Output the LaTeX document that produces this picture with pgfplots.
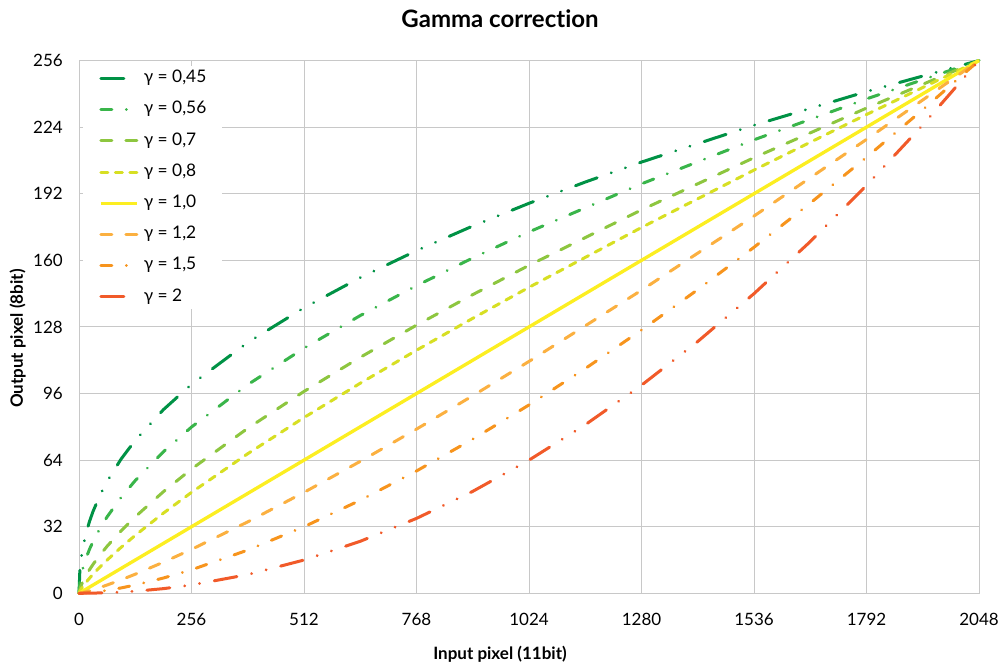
\documentclass[border=0pt]{standalone}
\usepackage{fontspec}
\setmainfont{Lato}[Ligatures=NoCommon]
\usepackage{pgfplots}
\pgfplotsset{compat=1.18}
\definecolor{gridgray}{RGB}{200,200,200}
\definecolor{cA}{HTML}{009245}
\definecolor{cB}{HTML}{39B54A}
\definecolor{cC}{HTML}{8DC63F}
\definecolor{cD}{HTML}{D7DF23}
\definecolor{cE}{HTML}{FCEE21}
\definecolor{cF}{HTML}{FBB040}
\definecolor{cG}{HTML}{F7941D}
\definecolor{cH}{HTML}{F15A29}
\tikzset{
  ldd/.style={line cap=round, dash pattern=on 17.25pt off 11.25pt on 0.01pt off 11.25pt on 0.01pt off 11.25pt},
  dd/.style={line cap=round, dash pattern=on 8.25pt off 10.9pt on 0.01pt off 10.9pt},
  dsh/.style={line cap=round, dash pattern=on 8.25pt off 10.5pt},
  sdsh/.style={line cap=round, dash pattern=on 5.25pt off 5.6pt},
}
\begin{document}
\begin{tikzpicture}[x=1pt,y=1pt]
\path[use as bounding box] (0,0) rectangle (751.5,499.5);
\begin{axis}[
  at={(59.25pt,54.5pt)}, anchor=south west,
  scale only axis, width=675pt, height=399.6pt,
  xmin=0, xmax=2048, ymin=0, ymax=256,
  xtick={0,256,...,2048}, ytick={0,32,...,256},
  grid=major, major grid style={draw=gridgray, line width=0.75pt},
  axis line style={draw=gridgray, line width=0.75pt},
  major tick length=0pt,
  /pgf/number format/assume math mode=true,
  /pgf/number format/1000 sep={},
  scaled ticks=false,
  tick label style={font=\fontsize{12.75}{15}\selectfont},
  yticklabel style={anchor=east, inner sep=0pt, xshift=-12pt},
  xticklabel style={anchor=north, inner sep=0pt, yshift=-15pt},
  title={Gamma correction},
  title style={font=\fontsize{18}{21}\selectfont\bfseries, at={(axis description cs:0.4678,1)}, anchor=base, yshift=19pt},
  xlabel={Input pixel (11bit)},
  xlabel style={font=\fontsize{12.75}{15}\selectfont\bfseries, at={(axis description cs:0.4678,0)}, anchor=base, yshift=-50pt},
  ylabel={Output pixel (8bit)},
  ylabel style={font=\fontsize{12.75}{15}\selectfont\bfseries, at={(axis description cs:0,0.478)}, anchor=center, rotate=0, yshift=46pt},
  clip=false,
  legend style={at={(axis description cs:0.0044,0.99)}, anchor=north west, draw=none, fill=white,
    inner xsep=12pt, inner ysep=3pt, row sep=10.9pt, column sep=4pt,
    nodes={inner sep=0pt, text height=9.5pt, text depth=3pt},
    font=\fontsize{13}{15}\selectfont},
  legend cell align=left,
  legend image code/.code={\draw[#1] (0pt,0pt) -- (27pt,0pt);},
  every axis plot/.append style={line width=2.25pt},
]
\addplot[cA, ldd] coordinates {(0,0) (2,11.31) (4,15.46) (8,21.11) (16,28.84) (24,34.61) (32,39.40) (48,47.28) (64,53.82) (96,64.59) (128,73.52) (192,88.24) (256,100.43) (384,120.53) (512,137.19) (640,151.69) (768,164.65) (896,176.48) (1024,187.40) (1152,197.61) (1280,207.21) (1536,224.92) (1792,241.08) (2048,256)};
\addlegendentry{γ = 0,45}
\addplot[cB, dd] coordinates {(0,0) (2,5.28) (4,7.78) (8,11.47) (16,16.91) (24,21.22) (32,24.93) (48,31.28) (64,36.76) (96,46.12) (128,54.19) (192,68.01) (256,79.89) (384,100.26) (512,117.78) (640,133.46) (768,147.80) (896,161.13) (1024,173.65) (1280,196.75) (1536,217.90) (1792,237.55) (2048,256)};
\addlegendentry{γ = 0,56}
\addplot[cC, dsh] coordinates {(0,0) (2,2.00) (4,3.25) (8,5.28) (16,8.57) (24,11.39) (32,13.93) (48,18.50) (64,22.63) (96,30.05) (128,36.76) (192,48.82) (256,59.71) (384,79.31) (512,97.01) (640,113.40) (768,128.84) (896,143.52) (1024,157.59) (1280,184.23) (1536,209.31) (1792,233.15) (2048,256)};
\addlegendentry{γ = 0,7}
\addplot[cD, sdsh] coordinates {(0,0) (2,1.00) (4,1.74) (8,3.03) (16,5.28) (24,7.30) (32,9.19) (48,12.71) (64,16.00) (96,22.13) (128,27.86) (192,38.53) (256,48.50) (384,67.09) (512,84.45) (640,100.95) (768,116.80) (896,132.13) (1024,147.03) (1280,175.77) (1536,203.37) (1792,230.06) (2048,256)};
\addlegendentry{γ = 0,8}
\addplot[cE, line width=2.5pt] coordinates {(0,0) (2048,256)};
\addlegendentry{γ = 1,0}
\addplot[cF, dsh] coordinates {(0,0) (16,0.76) (32,1.74) (48,2.83) (64,4.00) (96,6.51) (128,9.19) (192,14.95) (256,21.11) (384,34.34) (512,48.50) (640,63.40) (768,78.90) (896,94.94) (1024,111.43) (1280,145.64) (1536,181.27) (1792,218.10) (2048,256)};
\addlegendentry{γ = 1,2}
\addplot[cG, dd] coordinates {(0,0) (32,0.50) (64,1.41) (96,2.60) (128,4.00) (192,7.35) (256,11.31) (384,20.78) (512,32.00) (640,44.72) (768,58.79) (896,74.08) (1024,90.51) (1152,108.00) (1280,126.49) (1408,145.93) (1536,166.28) (1664,187.49) (1792,209.53) (1920,232.38) (2048,256)};
\addlegendentry{γ = 1,5}
\addplot[cH, ldd] coordinates {(0,0) (64,0.25) (128,1) (192,2.25) (256,4) (384,9) (512,16) (640,25) (768,36) (896,49) (1024,64) (1152,81) (1280,100) (1408,121) (1536,144) (1664,169) (1792,196) (1920,225) (2048,256)};
\addlegendentry{γ = 2}
\end{axis}
\end{tikzpicture}
\end{document}
